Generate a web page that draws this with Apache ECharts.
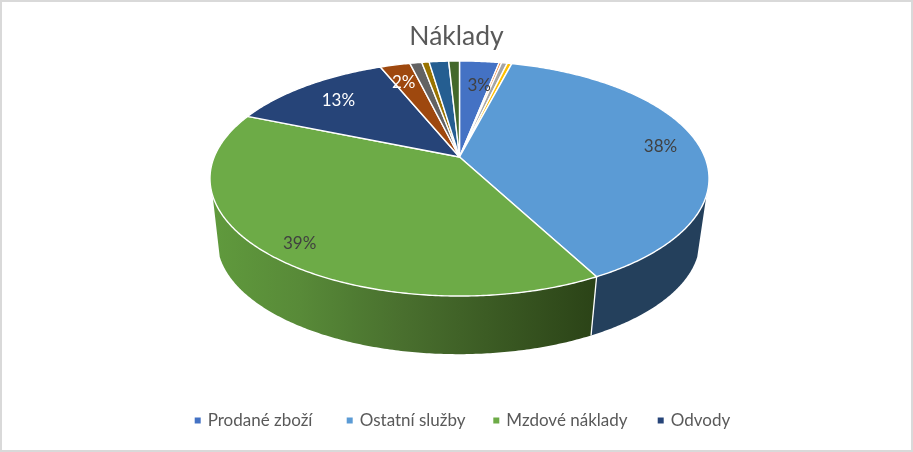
<!DOCTYPE html>
<html>
<head>
<meta charset="utf-8">
<style>
html,body{margin:0;padding:0;background:#fff;overflow:hidden;}
#wrap{position:relative;width:913px;height:452px;}
#c{position:absolute;left:0;top:0;width:913px;height:452px;}
#frame{position:absolute;left:0;top:0;width:913px;height:452px;box-sizing:border-box;border:2px solid #d9d9d9;pointer-events:none;}
</style>
<script src="https://cdn.jsdelivr.net/npm/echarts@6/dist/echarts.min.js"></script>
</head>
<body>
<div id="wrap"><div id="c"></div><div id="frame"></div></div>
<script>
var chartTitle = 'Náklady';
var sliceNames = ['Prodané zboží','Položka 2','Položka 3','Položka 4','Ostatní služby','Mzdové náklady','Odvody','Položka 8','Položka 9','Položka 10','Položka 11','Položka 12'];
var sliceValues = [3.06,0.19,0.44,0.35,38.2,39.0,12.6,2.33,0.92,0.57,1.51,0.83];
var legendNames = ['Prodané zboží','Ostatní služby','Mzdové náklady','Odvody'];

var sliceColors = ['#4472c4','#ed7d31','#a5a5a5','#ffc000','#5b9bd5','#6dab47','#264478','#9e480e','#636363','#997300','#255e91','#43682b'];
var labelColors = {0:'#404040',4:'#404040',5:'#404040',6:'#ffffff',7:'#ffffff'};
var labelRadius = {0:0.72,4:0.84,5:0.88,6:0.77,7:0.79};
var labelShift = {0:0.03,4:0,5:-0.03,6:0,7:-0.02};
var labelMinShare = 2;
var legendLefts = [194.7,346.7,493.3,657.7];

// Perspective projection of the pie's top and bottom discs
var proj = {cx:459.5, botCx:458.5, topY:157, botY:219.7, a:245.3, b:113.6, p:0.183, botScale:0.967};
var wallVisible = [108.6*Math.PI/180, 251.4*Math.PI/180];
function project(theta, r, bottom){
  var u = r*Math.sin(theta), v = r*Math.cos(theta);
  var s = bottom ? proj.botScale : 1;
  var d = 1 + proj.p*v;
  return [(bottom?proj.botCx:proj.cx) + s*proj.a*u/d, (bottom?proj.botY:proj.topY) - s*proj.b*v/d];
}
var total = sliceValues.reduce(function(s,v){return s+v;},0);
function toAngle(x){ return echarts.number.linearMap(x,[0,total],[0,Math.PI*2]); }

var cum = 0;
var ranges = sliceValues.map(function(v){ var r=[cum,cum+v,v]; cum+=v; return r; });

function arcPoints(a0,a1,bottom){
  var n = Math.max(2,Math.ceil((a1-a0)/0.01)), pts=[];
  for(var i=0;i<=n;i++) pts.push(project(a0+(a1-a0)*i/n,1,bottom));
  return pts;
}
function wallFill(i){
  if(i===5) return new echarts.graphic.LinearGradient(212,0,595,0,[
    {offset:0,color:'#609a3d'},{offset:0.23,color:'#588a38'},{offset:0.36,color:'#507d33'},
    {offset:0.5,color:'#496f2e'},{offset:1,color:'#2b4317'}],true);
  if(i===4) return '#24405c';
  return sliceColors[i];
}
function renderWall(params,api){
  var i = params.dataIndex;
  var a0 = Math.max(toAngle(api.value(0)),wallVisible[0]);
  var a1 = Math.min(toAngle(api.value(1)),wallVisible[1]);
  if(a1 <= a0) return {type:'group',children:[]};
  var top = arcPoints(a0,a1,false), bot = arcPoints(a0,a1,true).reverse();
  var children = [{type:'polygon',shape:{points:top.concat(bot)},style:{fill:wallFill(i)},silent:true}];
  if(a1 < wallVisible[1]){
    var p0 = project(a1,1,false), p1 = project(a1,1,true);
    children.push({type:'line',z2:2,silent:true,
      shape:{x1:p0[0],y1:p0[1],x2:p1[0],y2:p1[1]},
      style:{stroke:'#ffffff',lineWidth:1.3}});
  }
  return {type:'group',children:children};
}
function renderTop(i){
  return function(params,api){
    var a0 = toAngle(api.value(0)), a1 = toAngle(api.value(1));
    var pts = [project(a0,0,false)].concat(arcPoints(a0,a1,false));
    var children = [{type:'polygon',z2:10,shape:{points:pts},style:{fill:sliceColors[i],stroke:'#ffffff',lineWidth:1.4,lineJoin:'round'}}];
    var share = api.value(2)/total*100;
    if(share >= labelMinShare){
      var p = project((a0+a1)/2+labelShift[i],labelRadius[i],false);
      children.push({type:'text',z2:30,silent:true,x:p[0],y:p[1],
        style:{text:Math.round(share)+'%',fill:labelColors[i],font:'17px Lato',align:'center',verticalAlign:'middle'}});
    }
    return {type:'group',children:children};
  };
}

var series = [{type:'custom',name:'_walls',coordinateSystem:'none',z:2,silent:true,animation:false,
  data:ranges,renderItem:renderWall}];
sliceNames.forEach(function(name,i){
  series.push({type:'custom',name:name,coordinateSystem:'none',z:3,animation:false,
    itemStyle:{color:sliceColors[i]},data:[ranges[i]],renderItem:renderTop(i)});
});

var chart = echarts.init(document.getElementById('c'),null,{width:913,height:452});
chart.setOption({
  backgroundColor:'#ffffff',
  animation:false,
  title:{text:chartTitle,left:'center',top:18,textStyle:{fontFamily:'Lato',fontSize:26.5,fontWeight:'normal',color:'#595959'}},
  legend:legendNames.map(function(name,i){
    return {data:[name],left:legendLefts[i],top:412,padding:0,icon:'rect',itemWidth:6,itemHeight:6,
      selectedMode:false,textStyle:{fontFamily:'Lato',fontSize:17,color:'#595959',padding:[0,0,0,2]}};
  }),
  series:series
});
</script>
</body>
</html>
